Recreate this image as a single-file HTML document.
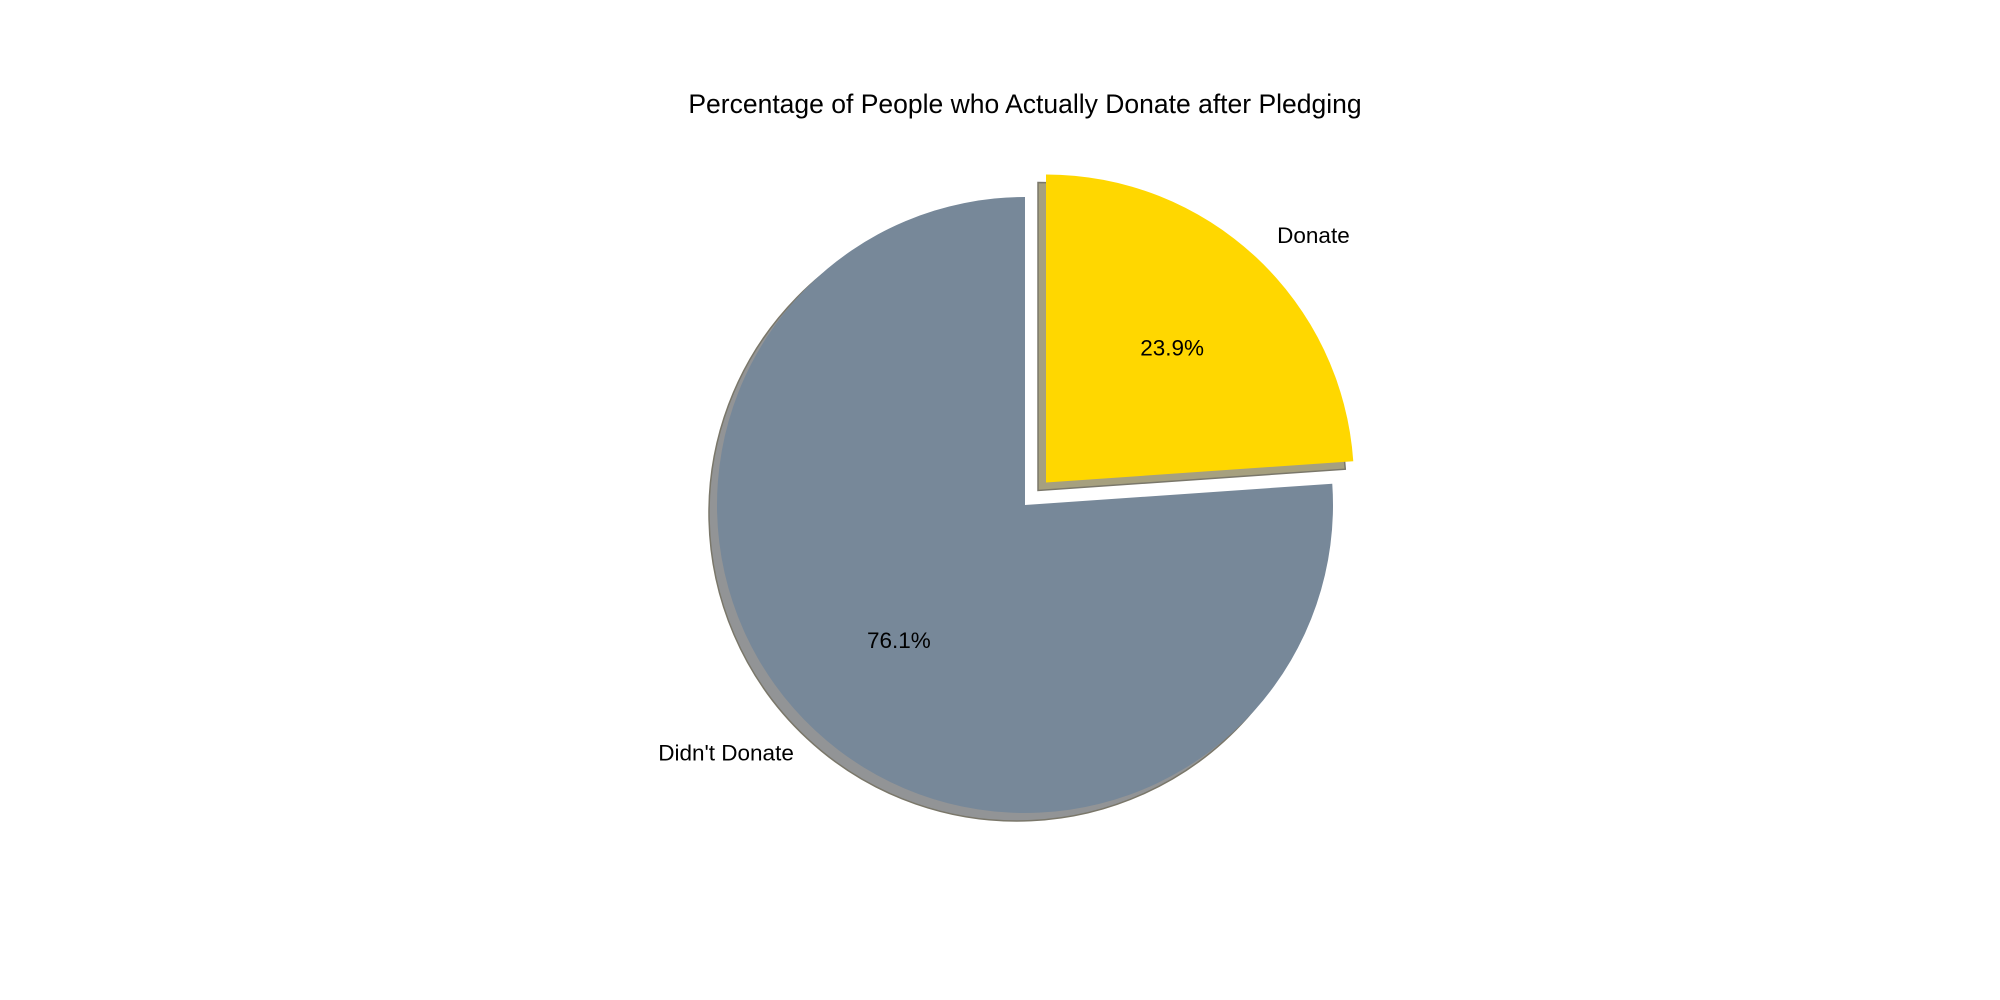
<!DOCTYPE html>
<html><head><meta charset="utf-8"><style>
html,body{margin:0;padding:0;background:#fff;}
svg{display:block;font-family:"Liberation Sans","DejaVu Sans",sans-serif;}
</style></head><body>
<svg id="chart" width="2000" height="1000" viewBox="0 0 2000 1000">
<text x="1025" y="113" text-anchor="middle" font-size="26.5" fill="#000">Percentage of People who Actually Donate after Pledging</text>
<g id="shadows"></g><g id="slices"></g><g id="labels"></g>
</svg>
<script>
const categories = ["Donate", "Didn't Donate"];
const values = [23.9, 76.1];
const explode = [0.1, 0];
const colors = ["#FFD700", "#778899"];
const shadowColors = ["#a6a07f", "#929496"];

const cx = 1025, cy = 505, R = 308, NS = "http://www.w3.org/2000/svg";
const total = values.reduce((a, b) => a + b, 0);
function pt(a, r, ox, oy) { const t = a * Math.PI / 180; return [ox + r * Math.cos(t), oy - r * Math.sin(t)]; }
function wedge(a1, a2, ox, oy) {
  const p1 = pt(a1, R, ox, oy), p2 = pt(a2, R, ox, oy);
  const large = Math.abs(a1 - a2) > 180 ? 1 : 0;
  return `M${ox},${oy} L${p1[0]},${p1[1]} A${R},${R} 0 ${large} 1 ${p2[0]},${p2[1]} Z`;
}
const sg = document.getElementById('shadows'), pg = document.getElementById('slices'), lg = document.getElementById('labels');
let start = 90;
values.forEach((v, i) => {
  const sweep = v / total * 360, end = start - sweep, mid = (start + end) / 2;
  const [ox, oy] = pt(mid, explode[i] * R, cx, cy);
  const sh = document.createElementNS(NS, 'path');
  sh.setAttribute('d', wedge(start, end, ox - 8, oy + 8));
  sh.setAttribute('fill', shadowColors[i]);
  sh.setAttribute('stroke', '#7a776a'); sh.setAttribute('stroke-width', '1.5');
  
  
  sg.appendChild(sh);
  const p = document.createElementNS(NS, 'path');
  p.setAttribute('d', wedge(start, end, ox, oy));
  p.setAttribute('fill', colors[i]);
  
  
  pg.appendChild(p);
  const lp = pt(mid, 1.1 * R, ox, oy);
  const t = document.createElementNS(NS, 'text');
  t.setAttribute('x', lp[0]); t.setAttribute('y', lp[1] + 8);
  t.setAttribute('font-size', '22.5');
  t.setAttribute('text-anchor', Math.cos(mid * Math.PI / 180) >= 0 ? 'start' : 'end');
  t.textContent = categories[i];
  
  
  lg.appendChild(t);
  const pp = pt(mid, 0.6 * R, ox, oy);
  const pc = document.createElementNS(NS, 'text');
  pc.setAttribute('x', pp[0]); pc.setAttribute('y', pp[1] + 8);
  pc.setAttribute('font-size', '22.5'); pc.setAttribute('text-anchor', 'middle');
  pc.textContent = v.toFixed(1) + '%';
  
  
  lg.appendChild(pc);
  start = end;
});
</script>
</body></html>
